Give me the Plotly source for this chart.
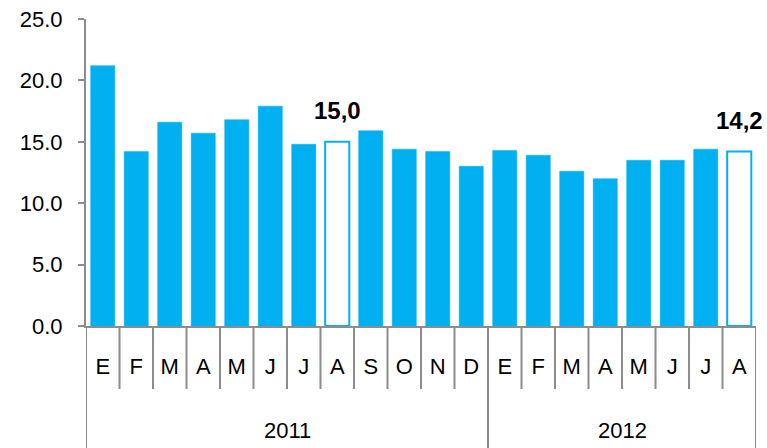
import plotly.graph_objects as go

months = ["E", "F", "M", "A", "M", "J", "J", "A", "S", "O", "N", "D",
          "E", "F", "M", "A", "M", "J", "J", "A"]
years = ["2011"] * 12 + ["2012"] * 8
values = [21.2, 14.2, 16.6, 15.7, 16.8, 17.9, 14.8, 15.0, 15.9, 14.4, 14.2, 13.0,
          14.3, 13.9, 12.6, 12.0, 13.5, 13.5, 14.4, 14.2]
hollow = [False] * 7 + [True] + [False] * 11 + [True]
label_text = {7: "15,0", 19: "14,2"}

BLUE = "#00B0F0"
GRAY = "#8C8C8C"
FONT = "Liberation Sans, Arial, sans-serif"

cats = [f"{y}-{i:02d}" for i, y in enumerate(years)]

fig = go.Figure()
fig.add_trace(go.Bar(
    x=cats, y=values,
    marker=dict(
        color=["white" if h else BLUE for h in hollow],
        line=dict(color=BLUE, width=[2 if h else 0.5 for h in hollow]),
    ),
    width=0.72,
    hoverinfo="x+y",
))

for i, t in label_text.items():
    fig.add_annotation(x=cats[i], y=values[i], text=f"<b>{t}</b>", showarrow=False,
                       yanchor="bottom", yshift=16,
                       font=dict(family="Liberation Sans Narrow, Arial Narrow, " + FONT,
                                 size=24, color="black"))

n = len(cats)
bottom_full = -0.42
bottom_tick = -63 / 307
for b in range(n + 1):
    xb = b - 0.5
    full = b == 0 or b == n or years[b] != years[b - 1]
    fig.add_shape(type="line", xref="x", yref="paper", x0=xb, x1=xb, y0=0,
                  y1=bottom_full if full else bottom_tick,
                  line=dict(color=GRAY, width=2), layer="above")

# year labels
groups = {}
for i, y in enumerate(years):
    groups.setdefault(y, []).append(i)
for y, idx in groups.items():
    fig.add_annotation(x=(idx[0] + idx[-1]) / 2, xref="x", y=-(430 - 326) / 307, yref="paper",
                       text=y, showarrow=False, yanchor="middle",
                       font=dict(family=FONT, size=22, color="black"))

fig.update_layout(
    width=767, height=448,
    margin=dict(l=86, r=11, t=19, b=122, autoexpand=False),
    plot_bgcolor="white", paper_bgcolor="white",
    showlegend=False,
    bargap=0.28,
    font=dict(family=FONT, size=22, color="black"),
)
fig.update_xaxes(
    type="category", range=[-0.5, n - 0.5], automargin=False,
    tickmode="array", tickvals=cats, ticktext=months,
    ticks="", showgrid=False, showline=True, linecolor=GRAY, linewidth=2,
    ticklabelstandoff=20,
    tickfont=dict(family=FONT, size=22, color="black"),
)
fig.update_yaxes(
    range=[0, 25], dtick=5, tickformat=".1f", automargin=False,
    ticks="outside", ticklen=6, tickcolor=GRAY, tickwidth=2,
    showgrid=False, showline=True, linecolor=GRAY, linewidth=2, zeroline=False,
    tickfont=dict(family=FONT, size=22, color="black"),
    ticklabelstandoff=11,
)

fig.write_html("out.html", config={"displayModeBar": False},
               post_script="document.body.style.margin='0px';document.body.style.overflow='hidden';")
